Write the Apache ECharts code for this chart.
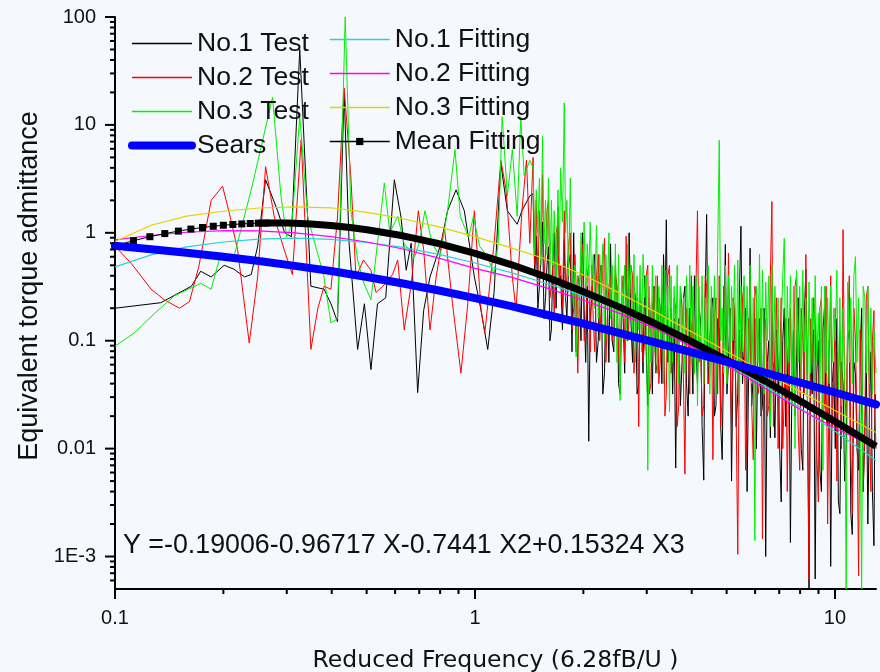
<!DOCTYPE html>
<html>
<head>
<meta charset="utf-8">
<title>Equivalent torque admittance</title>
<script src="https://cdn.jsdelivr.net/npm/echarts@6/dist/echarts.min.js"></script>
<style>
  html, body { margin: 0; padding: 0; background: #f5f9fd; }
  #chart { width: 880px; height: 672px; }
</style>
</head>
<body>
<div id="chart"></div>
<script>
// ---- axis ranges and tick marks ----
const xMin = 0.1, xMax = 13, yMin = 5e-4, yMax = 100;
const xMajorTicks = [0.1, 1, 10];
const xTickLabels = ['0.1', '1', '10'];
const xMinorTicks = [0.2, 0.3, 0.4, 0.5, 0.6, 0.7, 0.8, 0.9, 2, 3, 4, 5, 6, 7, 8, 9];
const yMajorTicks = [0.001, 0.01, 0.1, 1, 10, 100];
const yTickLabels = ['1E-3', '0.01', '0.1', '1', '10', '100'];
const yMinorTicks = [6e-4, 7e-4, 8e-4, 9e-4,
  0.002, 0.003, 0.004, 0.005, 0.006, 0.007, 0.008, 0.009,
  0.02, 0.03, 0.04, 0.05, 0.06, 0.07, 0.08, 0.09,
  0.2, 0.3, 0.4, 0.5, 0.6, 0.7, 0.8, 0.9,
  2, 3, 4, 5, 6, 7, 8, 9,
  20, 30, 40, 50, 60, 70, 80, 90];

// ---- measured admittance, low reduced-frequency part [f, value] ----
const test1Low = [[0.1,0.2],[0.134,0.225],[0.163,0.32],[0.173,0.44],[0.185,0.39],[0.201,0.5],[0.214,0.46],[0.229,0.39],[0.239,0.41],[0.249,0.75],[0.262,3.1],[0.283,1.6],[0.296,1.0],[0.309,0.92],[0.326,50],[0.35,0.32],[0.381,0.3],[0.398,0.22],[0.415,0.15],[0.433,20],[0.447,0.8],[0.472,0.083],[0.493,0.22],[0.514,0.054],[0.536,0.22],[0.565,0.25],[0.597,3.1],[0.623,1.4],[0.644,0.45],[0.665,0.8],[0.693,0.033],[0.72,0.19],[0.75,0.39],[0.805,0.8],[0.839,1.6],[0.886,2.5],[0.934,1.6],[0.996,0.39],[1.04,0.19],[1.085,0.083],[1.13,0.28],[1.18,4.4],[1.23,1.6],[1.31,1.2],[1.35,1.6],[1.42,2.2]];
const test2Low = [[0.1,0.75],[0.111,0.52],[0.126,0.3],[0.137,0.24],[0.151,0.2],[0.161,0.23],[0.171,0.49],[0.185,2.0],[0.199,2.7],[0.208,1.5],[0.219,0.7],[0.236,0.095],[0.249,0.39],[0.262,4.1],[0.277,1.4],[0.295,0.7],[0.311,0.41],[0.329,7.3],[0.35,0.083],[0.366,0.2],[0.381,0.32],[0.398,0.3],[0.415,1.4],[0.433,22],[0.452,3.3],[0.467,0.39],[0.49,0.56],[0.514,0.45],[0.531,0.28],[0.56,0.33],[0.59,0.41],[0.61,0.56],[0.636,0.126],[0.665,0.33],[0.696,1.6],[0.72,0.7],[0.75,0.126],[0.78,0.39],[0.822,1.14],[0.866,0.22],[0.914,0.05],[0.955,0.22],[0.996,1.6],[1.04,0.19],[1.065,0.118],[1.13,0.8],[1.18,4.7],[1.22,2.5],[1.27,0.39],[1.3,0.19],[1.35,1.6],[1.39,4.7],[1.42,0.8]];
const test3Low = [[0.1,0.089],[0.113,0.118],[0.129,0.18],[0.146,0.26],[0.173,0.34],[0.185,0.3],[0.197,0.65],[0.214,0.6],[0.239,2.5],[0.274,18],[0.289,2.2],[0.3,0.92],[0.31,1.2],[0.326,12],[0.343,1.4],[0.38,0.4],[0.398,0.146],[0.415,0.16],[0.436,100],[0.452,1.6],[0.472,0.56],[0.49,0.35],[0.514,0.24],[0.536,0.8],[0.56,2.9],[0.58,1.0],[0.61,1.42],[0.635,0.8],[0.68,0.6],[0.7,0.8],[0.726,1.6],[0.76,0.8],[0.8,0.6],[0.839,1.6],[0.88,5.9],[0.91,1.42],[0.96,0.9],[0.99,1.42],[1.03,0.75],[1.085,0.6],[1.13,0.41],[1.16,0.8],[1.19,11.9],[1.23,2.2],[1.27,5.9],[1.31,1.42],[1.34,11.9],[1.37,3.4],[1.42,4.7]];

// ---- measured admittance, high reduced-frequency part (shared frequencies) ----
const hiFreq = [
  1.45, 1.465, 1.48, 1.495, 1.51, 1.525, 1.54, 1.555, 1.57, 1.585,
  1.60, 1.615, 1.63, 1.645, 1.66, 1.68, 1.70, 1.715, 1.73, 1.75,
  1.77, 1.785, 1.80, 1.82, 1.84, 1.86, 1.88, 1.895, 1.91, 1.93,
  1.95, 1.97, 1.99, 2.01, 2.03, 2.05, 2.07, 2.09, 2.11, 2.13,
  2.15, 2.175, 2.20, 2.22, 2.24, 2.265, 2.29, 2.31, 2.33, 2.355,
  2.38, 2.405, 2.43, 2.455, 2.48, 2.505, 2.53, 2.555, 2.58, 2.605,
  2.63, 2.655, 2.68, 2.71, 2.74, 2.765, 2.79, 2.82, 2.85, 2.875,
  2.90, 2.93, 2.96, 2.99, 3.02, 3.05, 3.08, 3.11, 3.14, 3.175,
  3.21, 3.24, 3.27, 3.305, 3.34, 3.37, 3.40, 3.435, 3.47, 3.505,
  3.54, 3.575, 3.61, 3.645, 3.68, 3.72, 3.76, 3.795, 3.83, 3.87,
  3.91, 3.95, 3.99, 4.03, 4.07, 4.11, 4.15, 4.19, 4.23, 4.275,
  4.32, 4.36, 4.40, 4.445, 4.49, 4.535, 4.58, 4.625, 4.67, 4.72,
  4.77, 4.815, 4.86, 4.91, 4.96, 5.01, 5.06, 5.11, 5.16, 5.21,
  5.26, 5.315, 5.37, 5.425, 5.48, 5.535, 5.59, 5.645, 5.70, 5.755,
  5.81, 5.87, 5.93, 5.99, 6.05, 6.11, 6.17, 6.23, 6.29, 6.355,
  6.42, 6.485, 6.55, 6.615, 6.68, 6.745, 6.81, 6.88, 6.95, 7.02,
  7.09, 7.16, 7.23, 7.30, 7.37, 7.445, 7.52, 7.595, 7.67, 7.745,
  7.82, 7.90, 7.98, 8.06, 8.14, 8.22, 8.30, 8.385, 8.47, 8.555,
  8.64, 8.725, 8.81, 8.90, 8.99, 9.08, 9.17, 9.26, 9.35, 9.445,
  9.54, 9.635, 9.73, 9.825, 9.92, 10.02, 10.12, 10.22, 10.32, 10.425,
  10.53, 10.635, 10.74, 10.85, 10.96, 11.065, 11.17, 11.285, 11.40, 11.515,
  11.63, 11.745, 11.86, 11.98, 12.10, 12.22, 12.34, 12.46, 12.58, 12.705,
  12.83, 12.915, 13.0];
const test1Hi = [
  2.3, 0.4, 0.93, 0.2, 0.32, 0.63, 1.26, 0.16, 0.25, 0.5,
  0.74, 0.1, 0.126, 0.5, 1.0, 0.2, 1.74, 0.32, 0.4, 0.126,
  0.87, 0.25, 0.16, 0.5, 0.63, 0.079, 1.0, 0.2, 0.079, 0.4,
  0.32, 0.1, 1.0, 0.2, 0.063, 0.32, 0.0117, 0.16, 0.25, 0.5,
  0.63, 0.063, 0.1, 0.4, 0.5, 0.032, 0.05, 0.32, 0.25, 0.063,
  0.79, 0.1, 0.079, 0.4, 0.32, 0.04, 0.032, 0.2, 0.16, 0.05,
  0.5, 0.1, 1.0, 0.16, 0.063, 0.32, 0.25, 0.032, 0.04, 0.25,
  0.16, 0.05, 0.4, 0.079, 0.025, 0.25, 0.126, 0.032, 0.32, 0.063,
  0.05, 0.25, 0.2, 0.04, 0.63, 0.16, 1.32, 0.063, 0.1, 0.2,
  0.032, 0.16, 0.0066, 0.1, 0.16, 0.025, 0.063, 0.25, 0.32, 0.04,
  0.02, 0.2, 0.126, 0.032, 0.4, 0.079, 0.04, 0.2, 0.16, 0.016,
  0.0051, 0.25, 1.48, 0.04, 0.1, 0.2, 0.25, 0.02, 0.025, 0.16,
  0.126, 0.016, 0.0079, 0.1, 0.78, 0.032, 0.063, 0.2, 0.005, 0.063,
  0.2, 0.016, 0.032, 0.25, 1.15, 0.04, 0.079, 0.2, 0.004, 0.05,
  0.72, 0.025, 0.05, 0.16, 0.01, 0.1, 0.16, 0.02, 0.025, 0.2,
  0.001, 0.063, 0.1, 0.0126, 0.32, 0.04, 0.0126, 0.126, 0.063, 0.01,
  0.0032, 0.1, 0.2, 0.016, 0.04, 0.16, 0.00135, 0.05, 0.126, 0.02,
  0.02, 0.25, 0.25, 0.01, 0.0063, 0.16, 0.46, 0.025, 0.0005, 0.1,
  0.032, 0.126, 0.00062, 0.05, 0.1, 0.0063, 0.004, 0.126, 0.2, 0.02,
  0.016, 0.1, 0.00081, 0.04, 0.063, 0.01, 0.16, 0.0032, 0.0025, 0.063,
  0.04, 0.005, 0.01, 0.1, 0.126, 0.0025, 0.0016, 0.063, 0.05, 0.01,
  0.0063, 0.079, 0.2, 0.004, 0.0126, 0.063, 0.002, 0.02, 0.079, 0.004,
  0.00126, 0.032, 0.025];
const test2Hi = [
  5.0, 0.5, 2.0, 0.32, 1.6, 0.63, 3.5, 0.4, 0.63, 1.6,
  2.0, 0.25, 0.32, 0.5, 0.16, 1.0, 1.26, 0.32, 0.5, 0.2,
  1.6, 0.25, 0.4, 0.79, 1.0, 0.126, 0.2, 0.63, 0.32, 0.05,
  0.32, 0.5, 0.79, 0.1, 0.126, 0.4, 0.5, 0.079, 0.5, 0.16,
  0.079, 0.4, 0.63, 0.1, 0.2, 0.5, 0.89, 0.063, 0.16, 0.32,
  0.4, 0.1, 0.126, 0.5, 0.25, 0.079, 0.047, 0.25, 0.4, 0.063,
  0.93, 0.1, 0.16, 0.5, 0.4, 0.05, 0.1, 0.25, 0.016, 0.32,
  0.2, 0.063, 0.1, 0.4, 0.5, 0.032, 0.04, 0.2, 0.32, 0.05,
  0.4, 0.04, 0.063, 0.32, 0.25, 0.02, 0.032, 0.4, 0.5, 0.05,
  0.079, 0.25, 0.2, 0.016, 0.025, 0.32, 0.2, 0.04, 0.0058, 0.2,
  0.16, 0.032, 0.4, 0.1, 0.05, 0.32, 1.6, 0.063, 0.126, 0.02,
  0.025, 0.4, 0.32, 0.04, 0.05, 0.25, 0.0079, 0.16, 0.25, 0.032,
  0.4, 0.016, 0.032, 0.32, 0.126, 0.04, 0.65, 0.079, 0.016, 0.25,
  0.2, 0.02, 0.00105, 0.126, 0.063, 0.25, 0.32, 0.0063, 0.02, 0.16,
  0.126, 0.025, 0.0079, 0.32, 0.25, 0.032, 0.04, 0.2, 0.00145, 0.1,
  0.16, 0.02, 0.025, 0.4, 1.95, 0.016, 0.1, 0.25, 0.01, 0.05,
  0.25, 0.01, 0.032, 0.16, 0.004, 0.063, 0.2, 0.025, 0.05, 0.32,
  0.4, 0.016, 0.0063, 0.2, 0.1, 0.032, 0.63, 0.04, 0.00062, 0.16,
  0.063, 0.25, 0.16, 0.01, 0.0032, 0.2, 0.25, 0.02, 0.025, 0.32,
  0.002, 0.05, 0.4, 0.016, 0.04, 0.2, 0.005, 0.04, 0.126, 0.01,
  1.07, 0.032, 0.02, 0.16, 0.4, 0.01, 0.0025, 0.2, 0.1, 0.016,
  0.00066, 0.126, 0.126, 0.004, 0.016, 0.25, 0.32, 0.02, 0.004, 0.1,
  0.19, 0.02, 0.01];
const test3Hi = [
  4.0, 0.63, 2.5, 1.0, 3.2, 0.5, 7.9, 0.79, 2.0, 0.63,
  3.2, 0.4, 2.0, 0.5, 1.6, 0.32, 2.5, 0.63, 4.0, 1.26,
  16, 1.0, 2.0, 0.4, 3.2, 0.32, 0.2, 0.5, 0.071, 0.4,
  0.2, 1.0, 0.4, 1.26, 0.25, 0.79, 0.4, 1.26, 0.32, 0.63,
  0.2, 1.17, 0.16, 0.63, 0.25, 0.79, 0.1, 0.63, 0.2, 1.0,
  0.16, 0.5, 0.126, 0.79, 0.063, 0.63, 0.028, 0.4, 0.16, 0.5,
  0.1, 0.79, 0.2, 0.5, 0.1, 0.63, 0.063, 0.4, 0.126, 0.5,
  0.079, 0.63, 0.25, 0.4, 0.0063, 0.32, 0.063, 0.5, 0.079, 0.4,
  0.05, 0.32, 0.1, 0.5, 0.04, 0.45, 0.1, 0.32, 0.022, 0.4,
  0.063, 0.32, 0.079, 0.5, 0.04, 0.32, 0.1, 0.25, 0.05, 0.4,
  0.1, 0.5, 0.063, 0.32, 0.05, 0.4, 0.025, 0.32, 0.079, 0.4,
  0.04, 0.25, 0.079, 0.5, 0.032, 0.32, 0.063, 0.4, 0.032, 0.63,
  7.2, 0.1, 0.2, 0.05, 0.5, 0.04, 0.4, 0.063, 0.32, 0.1,
  0.5, 0.05, 0.56, 0.025, 0.32, 0.079, 0.4, 0.063, 0.32, 0.05,
  0.5, 0.04, 0.25, 0.0014, 0.32, 0.063, 0.63, 0.05, 0.45, 0.032,
  0.35, 0.1, 0.4, 0.016, 0.5, 0.063, 0.32, 0.05, 0.25, 0.032,
  0.126, 0.4, 0.89, 0.04, 0.32, 0.063, 0.4, 0.025, 0.32, 0.01,
  0.45, 0.063, 0.32, 0.04, 0.45, 0.079, 0.25, 0.025, 0.35, 0.05,
  0.25, 0.04, 0.4, 0.063, 0.18, 0.032, 0.32, 0.0063, 0.32, 0.05,
  0.25, 0.04, 0.32, 0.063, 0.2, 0.1, 0.45, 0.032, 0.25, 0.025,
  0.2, 0.05, 0.0005, 0.35, 0.063, 0.25, 0.04, 0.4, 0.6, 0.063,
  0.25, 0.016, 0.0005, 0.32, 0.25, 0.05, 0.32, 0.04, 0.2, 0.032,
  0.126, 0.079, 0.05];

// ---- Sears function ----
const searsFreq = [0.1, 0.126, 0.158, 0.2, 0.251, 0.316, 0.398, 0.501, 0.631, 0.794, 1.0,
  1.26, 1.58, 2.0, 2.51, 3.16, 3.98, 5.01, 6.31, 7.94, 10, 13];
const searsVal = [0.759, 0.705, 0.652, 0.6, 0.547, 0.494, 0.442, 0.389, 0.339, 0.292, 0.248,
  0.209, 0.174, 0.144, 0.118, 0.0966, 0.0785, 0.0635, 0.0513, 0.0412, 0.0331, 0.0257];

// ---- fitted curves (shared frequencies) ----
const fitFreq = [0.1, 0.126, 0.158, 0.2, 0.251, 0.316, 0.398, 0.501, 0.631, 0.794, 1.0,
  1.26, 1.58, 2.0, 2.51, 3.16, 3.98, 5.01, 6.31, 7.94, 10, 13];
const fit1Val = [0.484, 0.624, 0.741, 0.822, 0.875, 0.891, 0.871, 0.813, 0.733, 0.631, 0.525,
  0.427, 0.339, 0.26, 0.195, 0.141, 0.0933, 0.0617, 0.0389, 0.024, 0.0145, 0.00776];
const fit2Val = [0.861, 0.944, 1.012, 1.047, 1.042, 1.0, 0.923, 0.822, 0.708, 0.582, 0.468,
  0.389, 0.309, 0.237, 0.18, 0.13, 0.0891, 0.0589, 0.0372, 0.0234, 0.0155, 0.0102];
const fit3Val = [0.832, 1.175, 1.429, 1.585, 1.698, 1.738, 1.706, 1.549, 1.349, 1.135, 0.923,
  0.724, 0.569, 0.407, 0.279, 0.186, 0.122, 0.0794, 0.0519, 0.0343, 0.0226, 0.0141];

// mean fit: log10(Y) = -0.19006 - 0.96717 X - 0.7441 X^2 + 0.15324 X^3, X = log10(f)
const meanFreq = [0.1, 0.1125, 0.125, 0.1375, 0.15, 0.1625, 0.175, 0.1875, 0.2, 0.2125, 0.225, 0.2375, 0.25, 0.2625];
const meanVal  = [0.758, 0.845, 0.920, 0.984, 1.037, 1.083, 1.120, 1.150, 1.175, 1.195, 1.209, 1.220, 1.228, 1.232];
const meanBandFreq = [0.25, 0.275, 0.3, 0.316, 0.35, 0.398, 0.45, 0.501, 0.631, 0.794, 1.0, 1.259, 1.585, 1.995,
  2.512, 3.162, 3.981, 5.012, 6.31, 7.943, 10, 13];
const meanBandVal  = [1.228, 1.234, 1.231, 1.226, 1.207, 1.169, 1.122, 1.069, 0.938, 0.7925, 0.6454, 0.508, 0.3873, 0.2863,
  0.206, 0.1443, 0.0988, 0.0662, 0.0435, 0.0281, 0.01786, 0.0105];

const fitEquation = 'Y =-0.19006-0.96717 X-0.7441 X2+0.15324 X3';

// ---- helpers ----
const sans = '"Liberation Sans", Arial, sans-serif';
const zip = (xs, ys) => xs.map((x, i) => [x, ys[i]]);
const test1 = test1Low.concat(zip(hiFreq, test1Hi));
const test2 = test2Low.concat(zip(hiFreq, test2Hi));
const test3 = test3Low.concat(zip(hiFreq, test3Hi));

function tickLabel(value, ticks, labels) {
  for (let i = 0; i < ticks.length; i++) {
    if (Math.abs(Math.log10(value) - Math.log10(ticks[i])) < 1e-3) return labels[i];
  }
  return '';
}

const xTickData = xMajorTicks.map(f => [f, yMin, 10]).concat(xMinorTicks.map(f => [f, yMin, 5]));
const yTickData = yMajorTicks.map(v => [xMin, v, 10]).concat(yMinorTicks.map(v => [xMin, v, 5]));

function lineSeries(name, data, color, width, z, extra) {
  return Object.assign({
    name: name, type: 'line', data: data, color: color,
    symbol: 'none', z: z, animation: false,
    lineStyle: { color: color, width: width }
  }, extra || {});
}

const legendText = { fontFamily: sans, fontSize: 26.5, lineHeight: 26, color: '#111' };
const hideDot = { opacity: 0 };

const chart = echarts.init(document.getElementById('chart'), null, { renderer: 'canvas' });
chart.setOption({
  backgroundColor: '#f5f9fd',
  animation: false,
  grid: { left: 115, right: 4, top: 17, bottom: 83, containLabel: false, outerBoundsMode: 'none' },
  legend: [
    {
      orient: 'vertical', left: 128, top: 30, padding: 0, itemGap: 7,
      itemWidth: 60, itemHeight: 9, selectedMode: false,
      textStyle: legendText, lineStyle: { width: 1.5 },
      data: [
        { name: 'No.1 Test', itemStyle: hideDot },
        { name: 'No.2 Test', itemStyle: hideDot },
        { name: 'No.3 Test', itemStyle: hideDot },
        { name: 'Sears', itemStyle: hideDot, lineStyle: { width: 8, cap: 'round' } }
      ]
    },
    {
      orient: 'vertical', left: 329, top: 26, padding: 0, itemGap: 7,
      itemWidth: 60, itemHeight: 9, selectedMode: false,
      textStyle: legendText, lineStyle: { width: 1.5 },
      data: [
        { name: 'No.1 Fitting', itemStyle: hideDot },
        { name: 'No.2 Fitting', itemStyle: hideDot },
        { name: 'No.3 Fitting', itemStyle: hideDot },
        { name: 'Mean Fitting' }
      ]
    }
  ],
  xAxis: {
    type: 'log', logBase: 10, min: xMin, max: xMax,
    axisLine: { show: true, onZero: false, lineStyle: { color: '#000', width: 2 } },
    axisTick: { show: false }, minorTick: { show: false }, splitLine: { show: false },
    axisLabel: {
      margin: 19, fontSize: 20, fontFamily: sans, color: '#111',
      formatter: v => tickLabel(v, xMajorTicks, xTickLabels)
    },
    name: 'Reduced Frequency (6.28fB/U )', nameLocation: 'middle', nameGap: 60,
    nameTextStyle: { fontFamily: '"DejaVu Sans", sans-serif', fontSize: 23.5, color: '#111' }
  },
  yAxis: {
    type: 'log', logBase: 10, min: yMin, max: yMax,
    axisLine: { show: true, onZero: false, lineStyle: { color: '#000', width: 2 } },
    axisTick: { show: false }, minorTick: { show: false }, splitLine: { show: false },
    axisLabel: {
      margin: 19, fontSize: 20, fontFamily: sans, color: '#111',
      formatter: v => tickLabel(v, yMajorTicks, yTickLabels)
    },
    name: 'Equivalent torque admittance', nameLocation: 'middle', nameRotate: 90, nameGap: 68,
    nameTextStyle: { fontFamily: sans, fontSize: 27, color: '#111', padding: [0, 0, 0, 34] }
  },
  graphic: [{
    type: 'text', x: 123, y: 546, z: 50,
    style: { text: fitEquation, font: '26.8px ' + sans, fill: '#111', verticalAlign: 'middle' }
  }],
  series: [
    lineSeries('No.1 Test', test1, '#000000', 1, 2),
    lineSeries('No.2 Test', test2, '#ff0000', 1, 2),
    lineSeries('No.3 Test', test3, '#00f000', 1, 2),
    lineSeries('Sears', zip(searsFreq, searsVal), '#0000ff', 8, 6,
      { lineStyle: { color: '#0000ff', width: 8, cap: 'round', join: 'round' } }),
    lineSeries('No.1 Fitting', zip(fitFreq, fit1Val), '#2ad2d2', 1.2, 3),
    lineSeries('No.2 Fitting', zip(fitFreq, fit2Val), '#ff00ff', 1.2, 3),
    lineSeries('No.3 Fitting', zip(fitFreq, fit3Val), '#e2d400', 1.2, 3),
    lineSeries('Mean Fitting', zip(meanFreq, meanVal), '#000000', 1, 5,
      { symbol: 'rect', symbolSize: 7, showSymbol: true, showAllSymbol: true, itemStyle: { color: '#000' } }),
    lineSeries('Mean Fitting', zip(meanBandFreq, meanBandVal), '#000000', 7, 5,
      { lineStyle: { color: '#000', width: 7, join: 'round' } }),
    {
      type: 'custom', name: 'x ticks', coordinateSystem: 'cartesian2d', silent: true, clip: false, z: 20,
      data: xTickData, encode: { x: 0, y: 1 },
      renderItem: (params, api) => {
        const p = api.coord([api.value(0), api.value(1)]);
        return { type: 'line', shape: { x1: p[0], y1: p[1], x2: p[0], y2: p[1] + api.value(2) },
                 style: { stroke: '#000', lineWidth: 2 } };
      }
    },
    {
      type: 'custom', name: 'y ticks', coordinateSystem: 'cartesian2d', silent: true, clip: false, z: 20,
      data: yTickData, encode: { x: 0, y: 1 },
      renderItem: (params, api) => {
        const p = api.coord([api.value(0), api.value(1)]);
        return { type: 'line', shape: { x1: p[0] - api.value(2), y1: p[1], x2: p[0], y2: p[1] },
                 style: { stroke: '#000', lineWidth: 2 } };
      }
    }
  ]
});
</script>
</body>
</html>
